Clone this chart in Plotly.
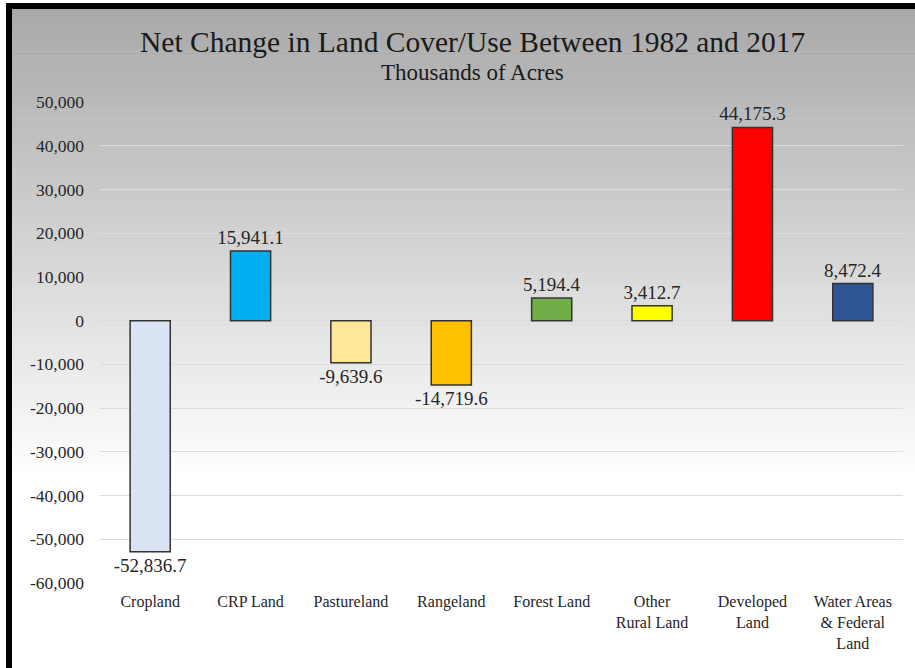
import plotly.graph_objects as go

categories = ["Cropland", "CRP Land", "Pastureland", "Rangeland", "Forest Land",
              "Other<br>Rural Land", "Developed<br>Land", "Water Areas<br>& Federal<br>Land"]
values = [-52836.7, 15941.1, -9639.6, -14719.6, 5194.4, 3412.7, 44175.3, 8472.4]
labels = ["-52,836.7", "15,941.1", "-9,639.6", "-14,719.6", "5,194.4", "3,412.7", "44,175.3", "8,472.4"]
colors = ["#dae3f3", "#00b0f0", "#ffe699", "#ffc000", "#70ad47", "#ffff00", "#ff0000", "#2f5597"]
tick_vals = list(range(-60000, 50001, 10000))
tick_text = [f"{v:,}" for v in tick_vals]

W, H = 915, 668
L, R, T, B = 100, 903, 102, 583
pw, ph = R - L, B - T

def px(x):
    return (x - L) / pw

def py(y):
    return (B - y) / ph

FONT = "Liberation Serif"

fig = go.Figure(go.Bar(
    x=categories, y=values, text=labels, textposition="outside",
    marker=dict(color=colors, line=dict(color="#333333", width=1.5)),
    width=0.4, cliponaxis=False, constraintext="none",
    textfont=dict(family=FONT, size=19, color="#262626"),
))

shapes = []
# background gradient strips (styling)
n = 120
y0, y1 = 8, 480
top_c, bot_c = 0xa8, 0xff
step = (y1 - y0) / n
for i in range(n):
    ya = y0 + i * step
    yb = ya + step + 0.6
    t = (i + 0.5) / n
    c = int(round(top_c + (bot_c - top_c) * t))
    col = f"rgb({c},{c},{c})"
    shapes.append(dict(type="rect", xref="paper", yref="paper", layer="below",
                       x0=px(12), x1=px(W), y0=py(yb), y1=py(ya),
                       fillcolor=col, line=dict(width=0)))
# black frame on left and top
shapes.append(dict(type="rect", xref="paper", yref="paper", layer="above",
                   x0=px(6), x1=px(12), y0=py(H + 2), y1=py(3),
                   fillcolor="black", line=dict(width=0)))
shapes.append(dict(type="rect", xref="paper", yref="paper", layer="above",
                   x0=px(6), x1=px(W + 2), y0=py(9), y1=py(3),
                   fillcolor="black", line=dict(width=0)))

annotations = [
    dict(text="Net Change in Land Cover/Use Between 1982 and 2017", xref="paper", yref="paper",
         x=px(472), y=py(42), showarrow=False, font=dict(family=FONT, size=29.5, color="#1a1a1a"),
         xanchor="center", yanchor="middle"),
    dict(text="Thousands of Acres", xref="paper", yref="paper",
         x=px(472), y=py(72), showarrow=False, font=dict(family=FONT, size=23, color="#1a1a1a"),
         xanchor="center", yanchor="middle"),
]

fig.update_layout(
    width=W, height=H,
    margin=dict(l=L, r=W - R, t=T, b=H - B, pad=0),
    paper_bgcolor="white", plot_bgcolor="rgba(0,0,0,0)",
    shapes=shapes, annotations=annotations, showlegend=False,
    font=dict(family=FONT, color="#262626"),
    bargap=0.6,
)
fig.update_yaxes(range=[-60000, 50000], tickvals=tick_vals, ticktext=tick_text,
                 showgrid=True, gridcolor="#dcdcdc", gridwidth=1.2, zeroline=False,
                 showline=False, ticks="", ticklabelstandoff=15,
                 tickfont=dict(family=FONT, size=17.5, color="#262626"))
fig.update_xaxes(showgrid=False, showline=False, ticks="", ticklabelstandoff=7,
                 tickfont=dict(family=FONT, size=16, color="#262626"), tickangle=0)

fig.write_html("out.html", config={"displayModeBar": False},
               post_script="document.body.style.margin='0';document.body.style.overflow='hidden';")
